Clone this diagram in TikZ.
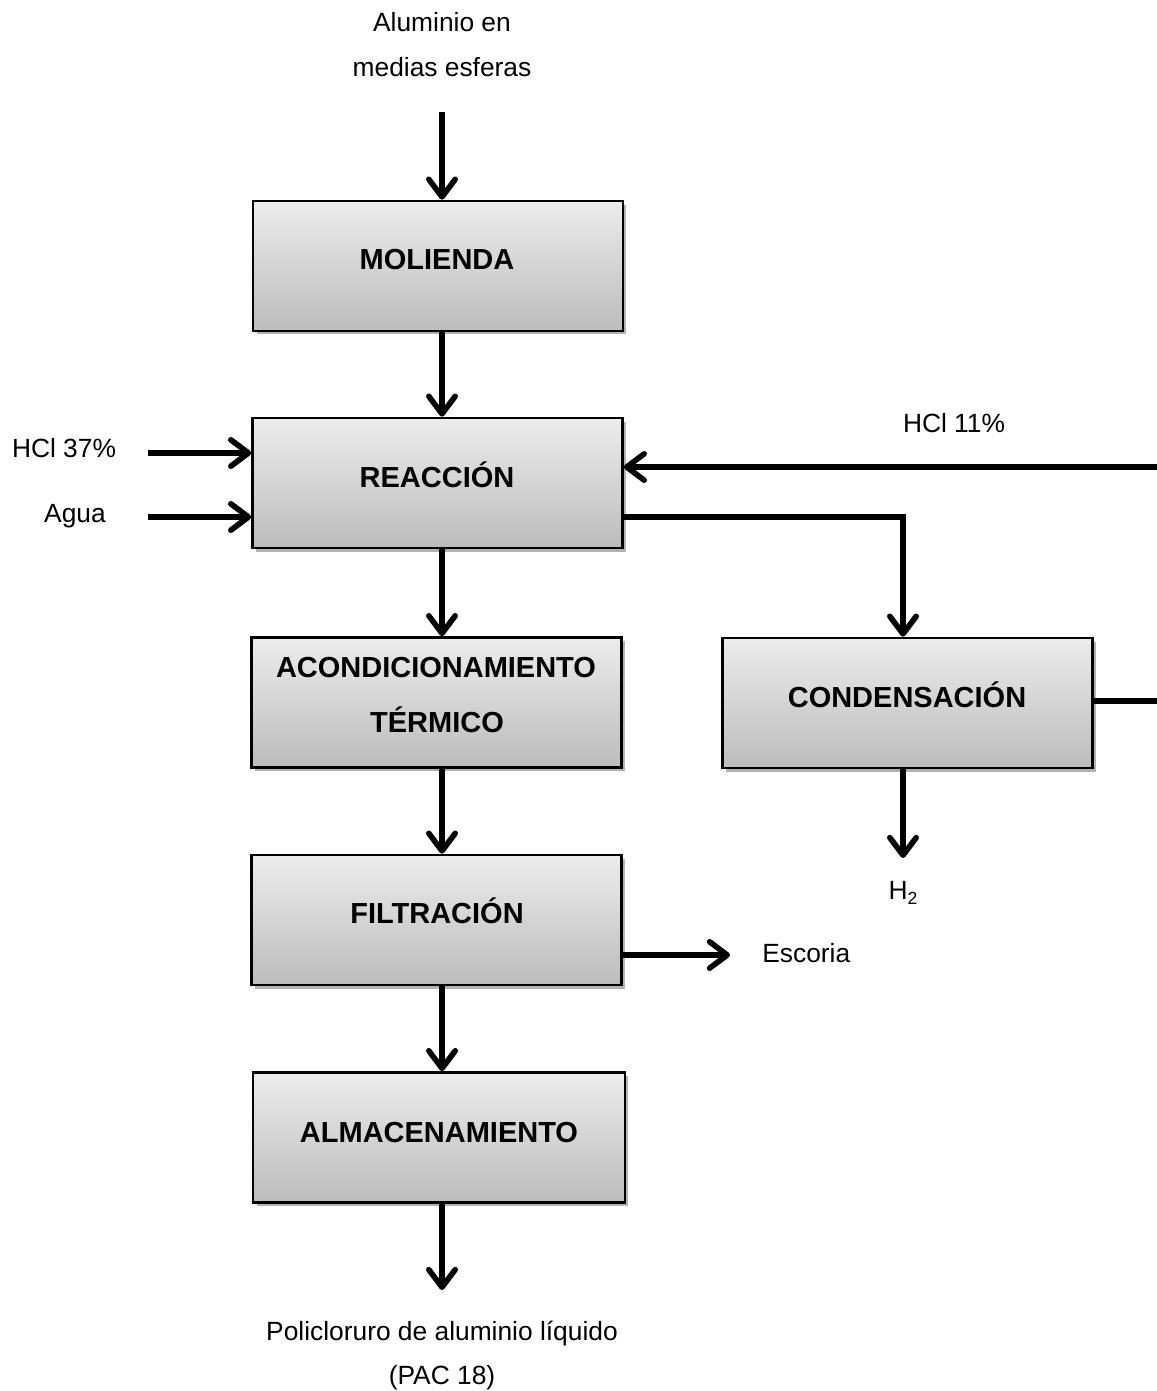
\documentclass[tikz,border=0pt]{standalone}
\usepackage{fontspec}
\setmainfont{Liberation Sans}
\usetikzlibrary{arrows.meta,shadows}
\definecolor{boxtop}{RGB}{236,236,236}
\definecolor{boxbot}{RGB}{188,188,188}
\begin{document}
\begin{tikzpicture}[x=0.02cm,y=-0.02cm,
  box/.style={draw=black,line width=1.5pt,top color=boxtop,bottom color=boxbot,
    minimum width=7.4cm,minimum height=2.6cm,inner sep=0pt,
    drop shadow={shadow xshift=2pt,shadow yshift=-2pt,opacity=0.5,fill=black!60}},
  flow/.style={line width=3.2pt,-{Straight Barb[length=10pt,width=15pt,round]}},
  lbl/.style={font=\fontsize{15}{18}\selectfont,anchor=base,inner sep=0pt},
  btxt/.style={font=\fontsize{16.5}{20}\selectfont\bfseries,anchor=base,inner sep=0pt}]
\useasboundingbox (0,0) rectangle (1156,1391);

% boxes
\node[box] (mol) at (438,266) {};
\node[box] (rea) at (437.5,483) {};
\node[box] (aco) at (436.5,702.5) {};
\node[box] (con) at (907.5,703) {};
\node[box] (fil) at (436.5,920) {};
\node[box,minimum width=7.44cm] (alm) at (439,1137.5) {};

% box texts
\node[btxt] (tmol) at (437,270) {MOLIENDA};
\node[btxt] (trea) at (437,487) {REACCIÓN};
\node[btxt] (taco1) at (436,677) {ACONDICIONAMIENTO};
\node[btxt] (taco2) at (437,732) {TÉRMICO};
\node[btxt] (tcon) at (907,707) {CONDENSACIÓN};
\node[btxt] (tfil) at (437,923) {FILTRACIÓN};
\node[btxt] (talm) at (439,1142) {ALMACENAMIENTO};

% outside labels
\node[lbl] (al1) at (442,32) {Aluminio en};
\node[lbl] (al2) at (442,77) {medias esferas};
\node[lbl] (hcl37) at (64,458) {HCl 37\%};
\node[lbl] (agua) at (75,522) {Agua};
\node[lbl] (hcl11) at (954,433) {HCl 11\%};
\node[lbl] (h2) at (903,899) {H\raisebox{-3pt}{\fontsize{10}{12}\selectfont 2}};
\node[lbl,anchor=base west] (esc) at (762,962) {Escoria};
\node[lbl] (pac1) at (442,1340) {Policloruro de aluminio líquido};
\node[lbl] (pac2) at (442,1384) {(PAC 18)};

% helper coordinates
\coordinate (ax) at (442,0);
\coordinate (topin) at (442,112);
\coordinate (botout) at (442,1290);
\coordinate (hclin) at (148,453);
\coordinate (aguain) at (148,517);
\coordinate (cbend) at (903,517);
\coordinate (h2end) at (903,858);
\coordinate (escend) at (730,955);
\coordinate (rc1) at (1175,701);
\coordinate (rc2) at (1175,467);

% main flow
\draw[flow] (topin) -- (mol.north -| ax);
\draw[flow] (mol.south -| ax) -- (rea.north -| ax);
\draw[flow] (rea.south -| ax) -- (aco.north -| ax);
\draw[flow] (aco.south -| ax) -- (fil.north -| ax);
\draw[flow] (fil.south -| ax) -- (alm.north -| ax);
\draw[flow] (alm.south -| ax) -- (botout);

% side streams
\draw[flow] (hclin) -- (rea.west |- hclin);
\draw[flow] (aguain) -- (rea.west |- aguain);
\draw[flow] (rea.east |- cbend) -- (cbend) -- (con.north -| cbend);
\draw[flow] (con.south -| h2end) -- (h2end);
\draw[flow] (fil.east |- escend) -- (escend);
\draw[flow] (con.east |- rc1) -- (rc1) -- (rc2) -- (rea.east |- rc2);
\end{tikzpicture}
\end{document}
